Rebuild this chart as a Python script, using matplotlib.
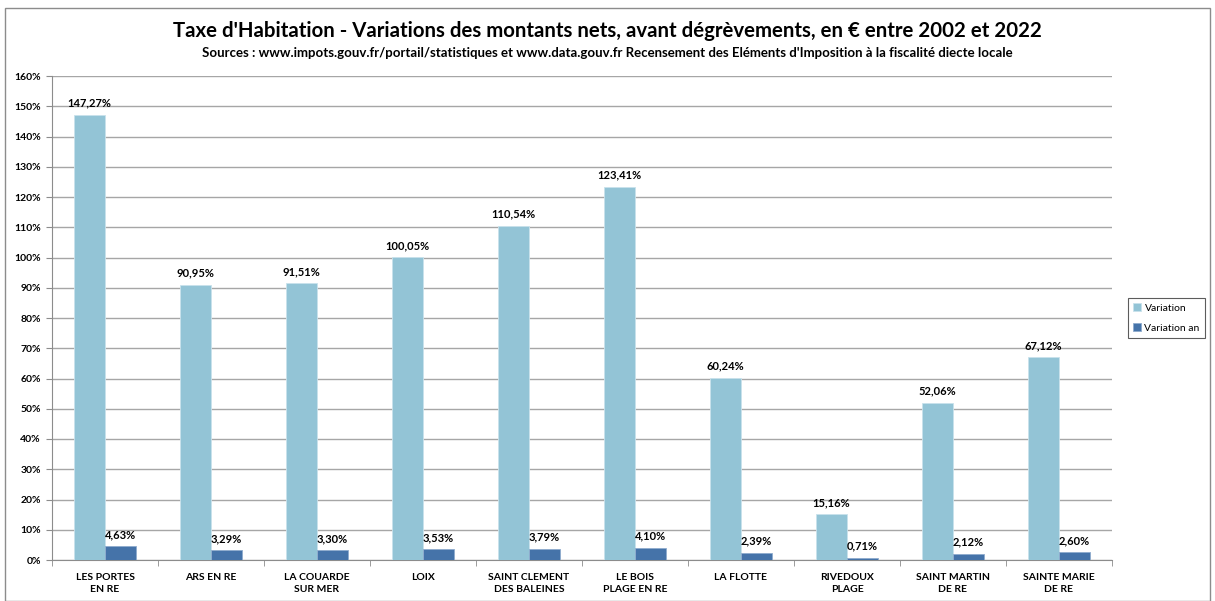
import matplotlib.pyplot as plt
import numpy as np
from matplotlib.patches import Rectangle

plt.rcParams['font.family'] = ['Lato', 'DejaVu Sans']

communes = ["LES PORTES\nEN RE", "ARS EN RE", "LA COUARDE\nSUR MER", "LOIX",
            "SAINT CLEMENT\nDES BALEINES", "LE BOIS\nPLAGE EN RE", "LA FLOTTE",
            "RIVEDOUX\nPLAGE", "SAINT MARTIN\nDE RE", "SAINTE MARIE\nDE RE"]
variation = [147.27, 90.95, 91.51, 100.05, 110.54, 123.41, 60.24, 15.16, 52.06, 67.12]
variation_an = [4.63, 3.29, 3.30, 3.53, 3.79, 4.10, 2.39, 0.71, 2.12, 2.60]

c_light = '#93C4D6'
c_dark = '#4573A9'

fig = plt.figure(figsize=(12.15, 6.01), dpi=100)
fig.patches.append(Rectangle((5 / 1215, 0.0), 1205 / 1215, 593 / 601,
                             transform=fig.transFigure, fill=False,
                             edgecolor='#8C8C8C', lw=1))
ax = fig.add_axes([52 / 1215, 41 / 601, 1060 / 1215, 484 / 601])

x = np.arange(len(communes))
w = 0.29
b1 = ax.bar(x - w / 2, variation, w, color=c_light, edgecolor='#C9E2EC', lw=0.6,
            label='Variation', zorder=3)
b2 = ax.bar(x + w / 2, variation_an, w, color=c_dark, edgecolor='#8FACCE', lw=0.6,
            label='Variation an', zorder=3)

def fmt(v):
    return ('%.2f' % v).replace('.', ',') + '%'

for bars, vals in ((b1, variation), (b2, variation_an)):
    for r, v in zip(bars, vals):
        ax.text(r.get_x() + r.get_width() / 2, v + 2.0, fmt(v), ha='center',
                va='bottom', fontsize=8, fontweight='bold', zorder=4)

ax.set_xlim(-0.5, len(communes) - 0.5)
ax.set_ylim(0, 160)
ax.set_yticks(np.arange(0, 161, 10))
ax.set_yticklabels(['%d%%' % t for t in range(0, 161, 10)], fontsize=7.5, fontweight='bold')
ax.set_xticks(x)
ax.set_xticklabels(communes, fontsize=7.5, fontweight='bold', linespacing=1.5)
ax.set_xticks(np.arange(-0.5, len(communes)), minor=True)
ax.tick_params(axis='x', which='major', length=0, pad=9)
ax.tick_params(axis='x', which='minor', length=4, color='#8C8C8C')
ax.tick_params(axis='y', length=4, color='#8C8C8C', pad=4)
ax.yaxis.grid(True, color='#A6A6A6', lw=1, zorder=0)
for s in ['top', 'right']:
    ax.spines[s].set_visible(False)
for s in ['left', 'bottom']:
    ax.spines[s].set_color('#8C8C8C')

leg = ax.legend(loc='center left', bbox_to_anchor=(1.01, 0.5), fontsize=7.5,
                frameon=True, fancybox=False, edgecolor='#333333',
                handlelength=0.8, handleheight=0.8, handletextpad=0.3,
                labelspacing=1.0, borderpad=0.5)
leg.get_frame().set_linewidth(0.8)

fig.text(0.5, 0.948, "Taxe d'Habitation - Variations des montants nets, avant dégrèvements, en € entre 2002 et 2022",
         ha='center', va='center', fontsize=14.7, fontweight='bold')
fig.text(0.5, 0.912, "Sources : www.impots.gouv.fr/portail/statistiques et www.data.gouv.fr Recensement des Eléments d'Imposition à la fiscalité diecte locale",
         ha='center', va='center', fontsize=9.5, fontweight='bold')

fig.savefig('out.png', dpi=100)
